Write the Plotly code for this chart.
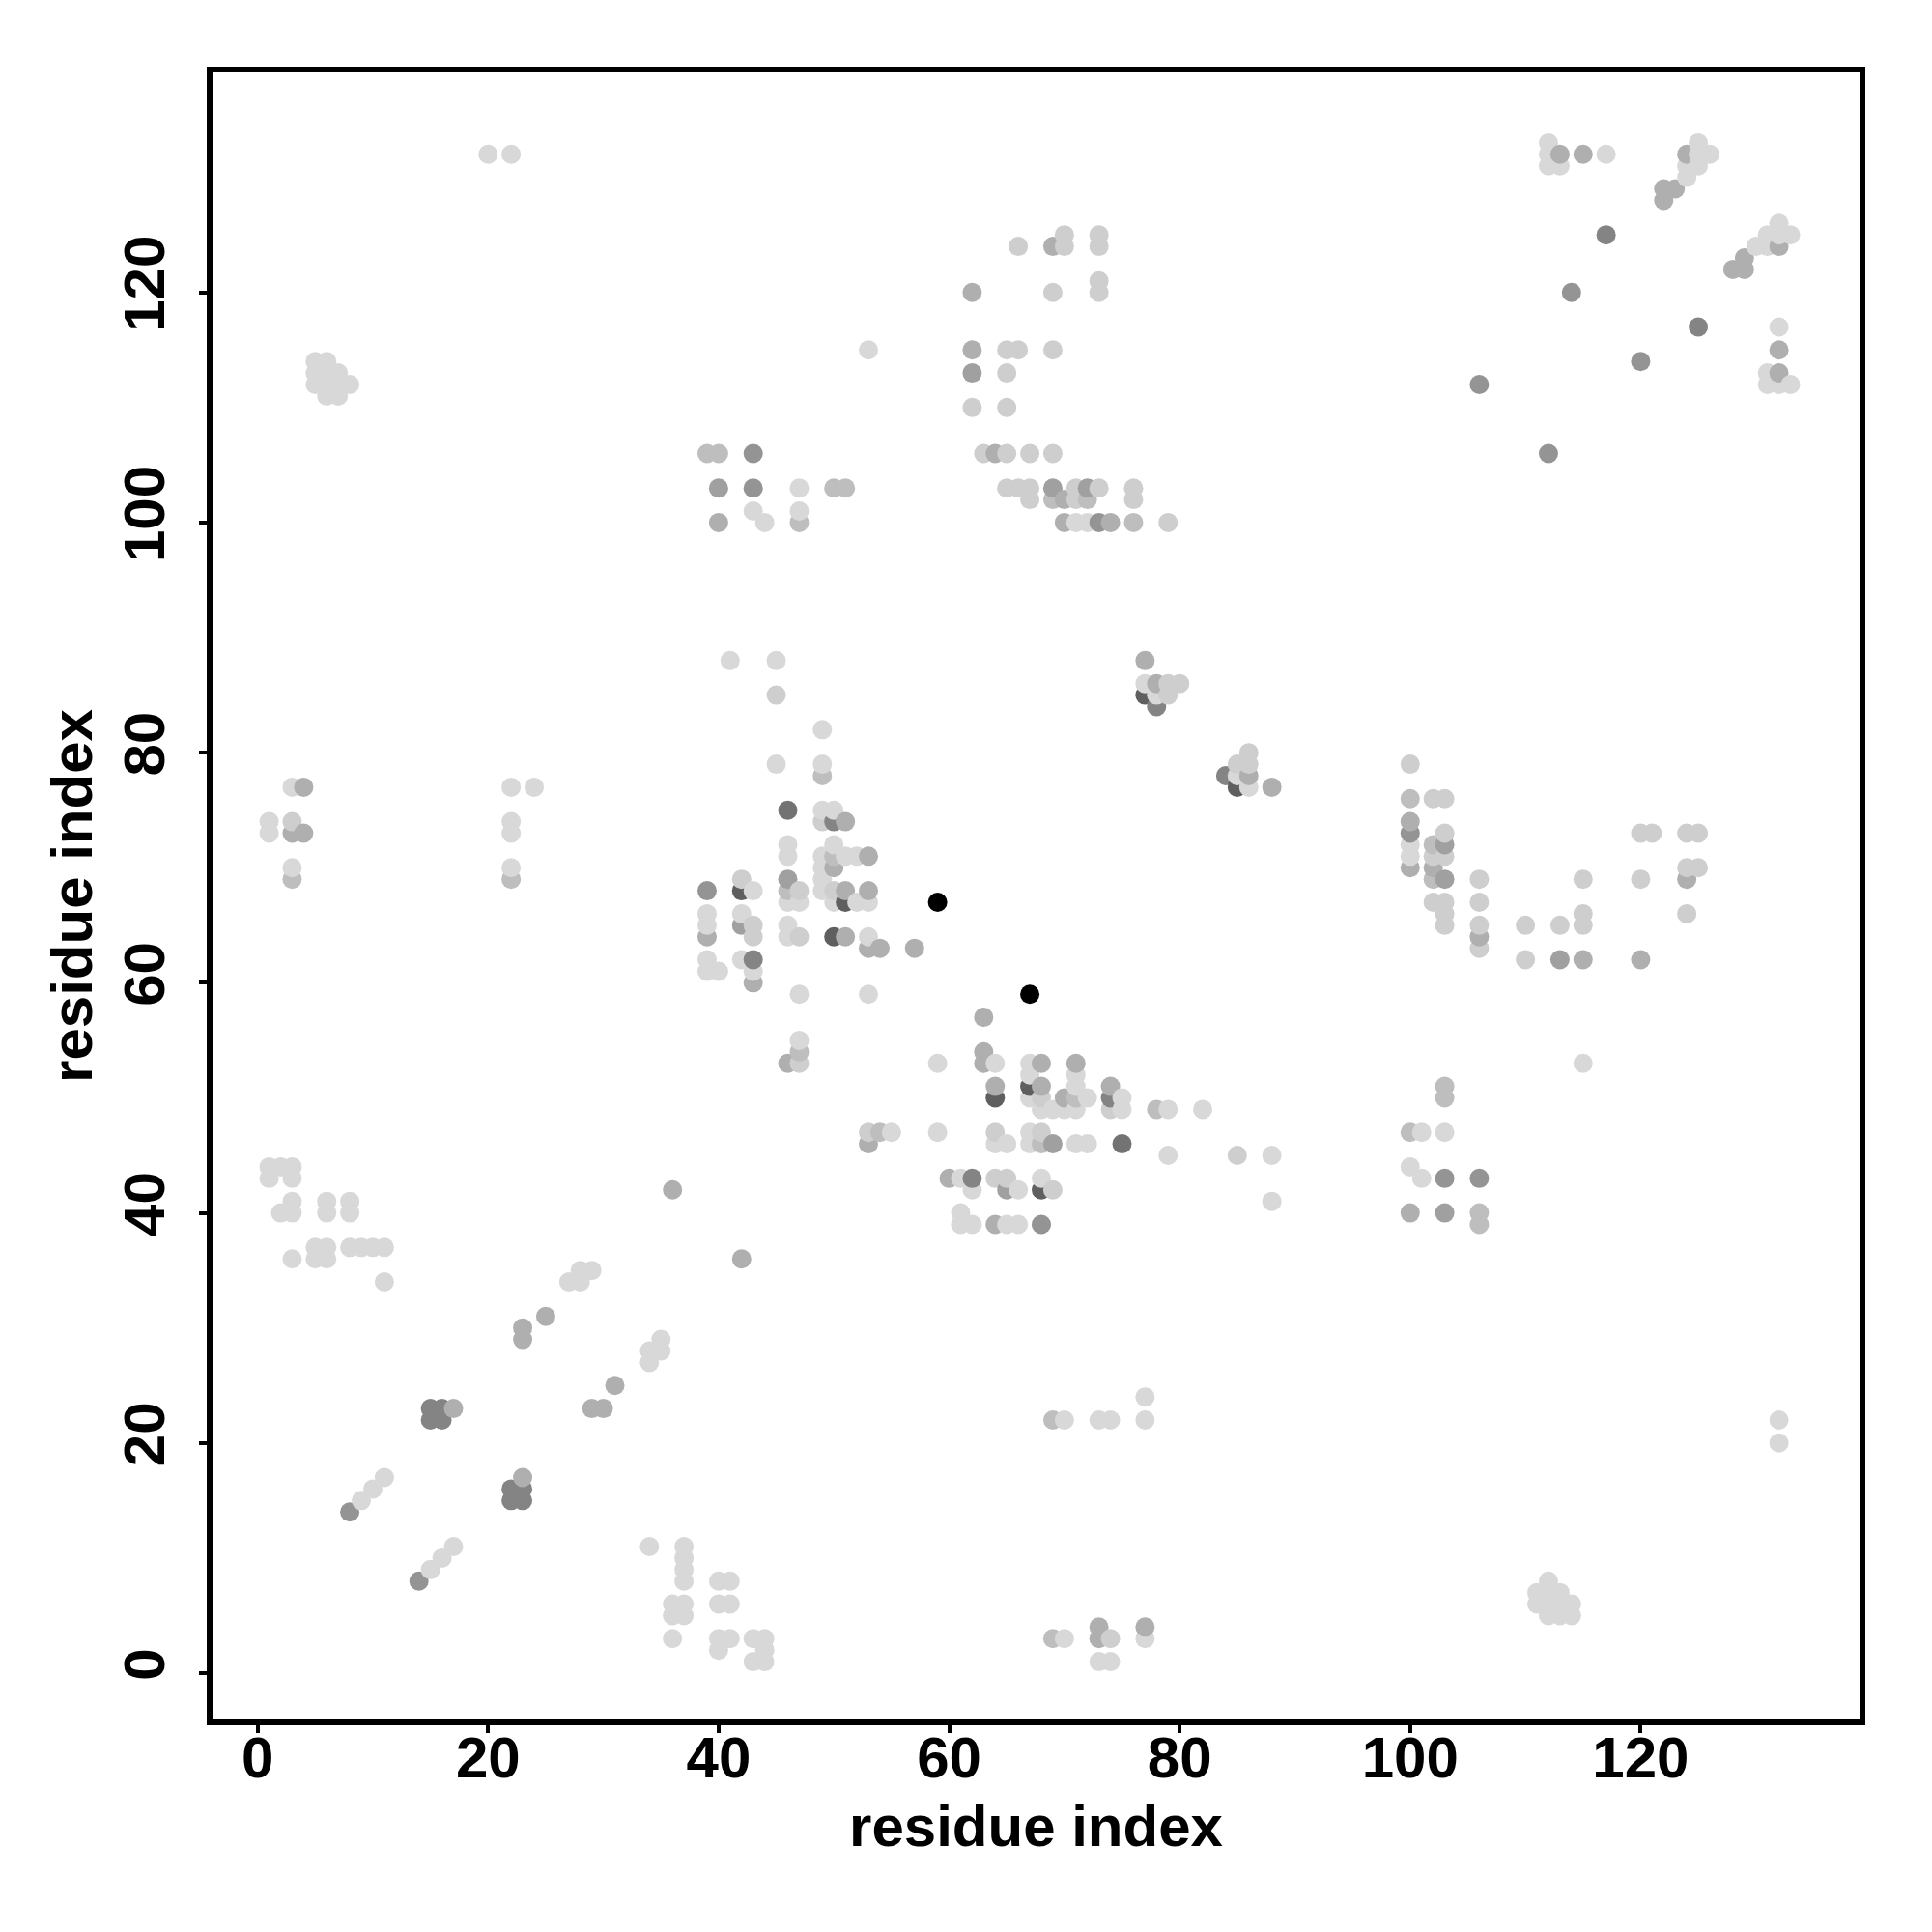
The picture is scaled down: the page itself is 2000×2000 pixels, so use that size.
import plotly.graph_objects as go

# Residue contacts (i < j), grouped by grey level; the map is symmetric.
shade_216 = [(1,43),(1,44),(2,44),(3,44),(3,43),(3,41),(3,40),(2,40),(6,41),(6,40),(8,41),(8,40),
    (5,37),(6,37),(5,36),(6,36),(3,36),(8,37),(9,37),(10,37),(11,37),(11,34),
    (27,34),(28,34),(28,35),(29,35),(9,15),(10,16),(11,17),(1,73),(1,74),(3,77),(3,70),
    (22,77),(24,77),(22,74),(22,73),(22,70),(20,132),(22,132),
    (5,112),(5,113),(5,114),(6,111),(6,112),(6,113),(6,114),(7,111),(7,112),(7,113),(8,112),
    (41,88),(45,88),(49,82),(45,79),(49,79),(49,75),(50,75),(46,72),(46,71),(50,72),(49,71),
    (51,71),(52,71),(49,70),(49,69),(49,68),(43,68),(39,61),(39,62),(39,65),(39,66),(40,61),
    (42,62),(42,66),(43,61),(46,64),(46,65),(46,67),(47,67),(50,67),(52,67),(53,67),(53,64),
    (47,59),(53,59),(47,55),(71,100),(72,100),
    (112,131),(112,132),(112,133),(113,131),(117,132),(124,130),(124,131),(125,131),(125,132),
    (125,133),(126,132),(53,115),
    (100,71),(100,72),(102,71),(103,71),(102,67),(103,67),(103,66),(103,65),(106,65),(115,65),
    (124,70),(125,70),(44,100),(47,101),(43,101),(47,103),(77,86),(78,85)]
shade_206 = [(3,74),(45,85),(42,69),(47,68),(50,68),(43,64),(43,65),(47,64),(47,53),(49,74),
    (66,124),(70,124),(70,125),(73,125),(73,124),(69,120),(73,120),(73,121),
    (65,115),(66,115),(69,115),(65,113),(62,110),(65,110),(63,106),(65,106),(67,106),(69,106),
    (65,103),(66,103),(67,103),(71,103),(73,103),(76,103),(67,102),(71,102),(76,102),(79,100),
    (100,79),(102,76),(103,76),(103,73),(106,69),(106,67),(106,63),(110,65),(110,62),(113,65),
    (115,69),(115,66),(120,73),(121,73),(120,69),(124,73),(125,73),(124,66),
    (79,85),(79,86),(80,86)]
shade_190 = [(3,69),(22,69),(46,68),(49,78),(50,71),(47,54),(76,100),
    (100,76),(102,72),(102,69),(69,102),(72,102),(39,106),(40,106),(50,103),(51,103),(47,100)]
shade_175 = [(36,42),(25,31),(23,30),(23,29),(17,23),(4,73),
    (46,53),(51,74),(50,70),(53,68),(53,71),(39,64),(53,63),(54,63),(57,63),(43,60),(51,64),(51,68),
    (63,54),(63,57),(70,102),(62,120),(69,124),(62,115),(64,106),(70,100),(74,100),
    (100,74),(100,70),(102,70),(106,64),(115,62),(120,62),(124,69),
    (122,128),(122,129),(123,129),(113,132),(115,132),(124,132),(40,100),
    (77,88),(78,86),(3,73),(4,77)]
shade_160 = [(46,69),(42,65),(62,113),(69,103),(72,103),(103,69),(103,72),(113,62),(40,103)]
shade_148 = [(8,14),(39,68),(43,103),(43,106),(73,100),(100,73),(106,112),(114,120)]
shade_132 = [(15,22),(15,23),(16,22),(16,23),(50,74),(43,62),(117,125),(78,84)]
shade_115 = [(46,75)]
shade_95 = [(42,68),(51,67),(50,64),(77,85)]
shade_0 = [(59,67)]
x_tick_values = [0, 20, 40, 60, 80, 100, 120]
y_tick_values = [0, 20, 40, 60, 80, 100, 120]
axis_label = "residue index"

levels = {216: shade_216, 206: shade_206, 190: shade_190, 175: shade_175, 160: shade_160,
          148: shade_148, 132: shade_132, 115: shade_115, 95: shade_95, 0: shade_0}
cells = {}
for grey, pairs in levels.items():
    for a, b in pairs:
        cells[(a, b)] = grey
        cells[(b, a)] = grey
ordered = sorted(cells)
xs = [p[0] for p in ordered]
ys = [p[1] for p in ordered]
colors = [f"rgb({cells[p]},{cells[p]},{cells[p]})" for p in ordered]

fig = go.Figure(go.Scatter(x=xs, y=ys, mode="markers",
                           marker=dict(size=20, color=colors, line=dict(width=0))))
font = dict(family="Liberation Sans", size=60, color="black", weight="bold")
axis = dict(showgrid=False, zeroline=False, showline=True, mirror=True, linecolor="black", linewidth=6,
            ticks="outside", ticklen=8, tickwidth=3.5, tickcolor="black", tickfont=font)
fig.update_layout(width=2000, height=2000, autosize=False, showlegend=False,
                  margin=dict(l=220, r=75, t=74.5, b=220), paper_bgcolor="white", plot_bgcolor="white",
                  xaxis=dict(axis, range=[-3.91, 138.99], tickvals=x_tick_values, ticklabelstandoff=-26,
                             title=dict(text=axis_label, font=font, standoff=19)),
                  yaxis=dict(axis, range=[-4.03, 139.12], tickvals=y_tick_values, tickangle=-90, ticklabelstandoff=12,
                             title=dict(text=axis_label, font=font, standoff=3)))
fig.write_html("out.html", config=dict(displayModeBar=False), post_script="document.body.style.margin='0';")
